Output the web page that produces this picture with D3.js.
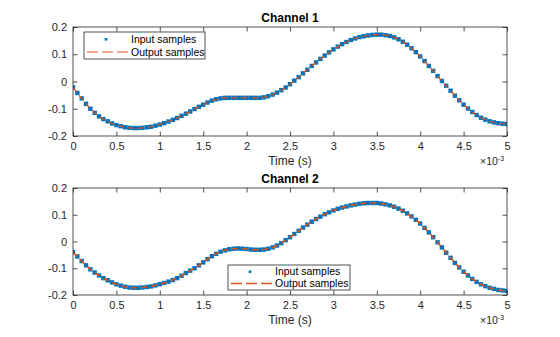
<!DOCTYPE html>
<html><head><meta charset="utf-8">
<script src="https://cdn.jsdelivr.net/npm/d3@7"></script>
<style>body{margin:0;background:#fff}svg{display:block}text{font-family:"Liberation Sans",Arial,sans-serif}</style>
</head><body><svg id="c" width="560" height="337"></svg>
<script>
// time in ms (axis shows ×10^-3 s)
const timeMs = d3.range(0, 101).map(i => +(i * 0.05).toFixed(2));
const channel1 = [-0.022,-0.042,-0.062,-0.082,-0.100,-0.115,-0.128,-0.138,-0.146,-0.154,
 -0.160,-0.164,-0.168,-0.170,-0.171,-0.171,-0.170,-0.168,-0.166,-0.162,
 -0.158,-0.153,-0.147,-0.141,-0.134,-0.126,-0.118,-0.110,-0.101,-0.093,
 -0.085,-0.077,-0.070,-0.065,-0.062,-0.060,-0.060,-0.060,-0.060,-0.060,
 -0.060,-0.060,-0.060,-0.060,-0.058,-0.054,-0.048,-0.041,-0.032,-0.022,
 -0.010,0.003,0.016,0.030,0.043,0.057,0.070,0.083,0.095,0.107,
 0.118,0.128,0.137,0.145,0.152,0.158,0.163,0.166,0.169,0.171,
 0.172,0.172,0.170,0.167,0.162,0.155,0.146,0.135,0.122,0.108,
 0.092,0.075,0.057,0.039,0.020,0.002,-0.016,-0.034,-0.052,-0.069,
 -0.085,-0.099,-0.112,-0.123,-0.133,-0.140,-0.146,-0.150,-0.153,-0.155,-0.156];
const channel2 = [-0.040,-0.056,-0.073,-0.089,-0.104,-0.116,-0.127,-0.137,-0.145,-0.153,
 -0.160,-0.165,-0.169,-0.172,-0.173,-0.173,-0.172,-0.170,-0.168,-0.164,
 -0.160,-0.155,-0.150,-0.144,-0.137,-0.128,-0.118,-0.109,-0.100,-0.089,
 -0.078,-0.066,-0.055,-0.046,-0.038,-0.033,-0.029,-0.027,-0.026,-0.027,
 -0.028,-0.030,-0.031,-0.031,-0.030,-0.027,-0.022,-0.015,-0.006,0.005,
 0.016,0.028,0.040,0.052,0.063,0.074,0.084,0.093,0.102,0.109,
 0.116,0.122,0.127,0.131,0.135,0.138,0.141,0.143,0.144,0.144,
 0.144,0.142,0.139,0.135,0.130,0.123,0.115,0.105,0.094,0.081,
 0.067,0.051,0.034,0.016,-0.003,-0.022,-0.042,-0.061,-0.080,-0.097,
 -0.113,-0.127,-0.140,-0.151,-0.160,-0.167,-0.173,-0.177,-0.181,-0.183,-0.185];
const xTicks = [0,0.5,1,1.5,2,2.5,3,3.5,4,4.5,5];
const yTicks = [-0.2,-0.1,0,0.1,0.2];
const titles = ["Channel 1","Channel 2"];
const legendLabels = ["Input samples","Output samples"];
const xLabel = "Time (s)";

const BLUE = "#0072BD", ORANGE = "#D95319";
const svg = d3.select("#c");
const panels = [
  {data: channel1, top: 27, bottom: 136, legend: {x: 84, y: 32, w: 121, h: 27}, lw: 1.2},
  {data: channel2, top: 188, bottom: 295, legend: {x: 228, y: 265, w: 122, h: 25}, lw: 1.6}
];
const left = 73, right = 507;

panels.forEach((p, pi) => {
  const x = d3.scaleLinear().domain([0, 5]).range([left, right]);
  const y = d3.scaleLinear().domain([-0.2, 0.2]).range([p.bottom, p.top]);
  const g = svg.append("g");
  const cid = "clip" + pi;
  svg.append("clipPath").attr("id", cid).append("rect")
    .attr("x", left).attr("y", p.top).attr("width", right - left).attr("height", p.bottom - p.top);

  const pts = timeMs.map((t, i) => [t, p.data[i]]);
  const plot = g.append("g").attr("clip-path", `url(#${cid})`);
  plot.selectAll("rect.m").data(pts).enter().append("rect")
    .attr("x", d => x(d[0]) - 2.2).attr("y", d => y(d[1]) - 2.2)
    .attr("width", 4.4).attr("height", 4.4).attr("fill", BLUE);
  plot.append("path").datum(pts)
    .attr("d", d3.line().x(d => x(d[0])).y(d => y(d[1])))
    .attr("fill", "none").attr("stroke", ORANGE).attr("stroke-width", p.lw)
    .attr("stroke-dasharray", "6,4");

  const tl = 4.5;
  const fmtX = d => String(d);
  const fmtY = d => (Math.abs(d) < 1e-9 ? "0" : String(d));
  g.append("g").attr("transform", `translate(0,${p.bottom})`)
    .call(d3.axisBottom(x).tickValues(xTicks).tickSizeInner(-tl).tickSizeOuter(0).tickPadding(6).tickFormat(fmtX));
  g.append("g").attr("transform", `translate(0,${p.top})`)
    .call(d3.axisTop(x).tickValues(xTicks).tickSizeInner(-tl).tickSizeOuter(0).tickFormat(""));
  g.append("g").attr("transform", `translate(${left},0)`)
    .call(d3.axisLeft(y).tickValues(yTicks).tickSizeInner(-tl).tickSizeOuter(0).tickPadding(6).tickFormat(fmtY));
  g.append("g").attr("transform", `translate(${right},0)`)
    .call(d3.axisRight(y).tickValues(yTicks).tickSizeInner(-tl).tickSizeOuter(0).tickFormat(""));
  g.selectAll(".domain").remove();
  g.selectAll(".tick line").attr("stroke", "#262626").attr("stroke-width", 0.8);
  g.selectAll(".tick text").attr("fill", "#262626").style("font-size", "11px")
    .style("font-family", "'Liberation Sans',Arial,sans-serif");
  g.append("rect").attr("x", left).attr("y", p.top).attr("width", right - left).attr("height", p.bottom - p.top)
    .attr("fill", "none").attr("stroke", "#262626").attr("stroke-width", 0.8);

  // title, x label, exponent
  g.append("text").attr("x", (left + right) / 2).attr("y", p.top - 5).attr("text-anchor", "middle")
    .style("font-size", "12px").style("font-weight", "bold").attr("fill", "#000").text(titles[pi]);
  g.append("text").attr("x", (left + right) / 2).attr("y", p.bottom + 29).attr("text-anchor", "middle")
    .style("font-size", "12px").attr("fill", "#262626").text(xLabel);
  const ex = g.append("text").attr("x", right - 27).attr("y", p.bottom + 29)
    .style("font-size", "10.5px").attr("fill", "#262626");
  ex.append("tspan").text("×10");
  ex.append("tspan").attr("dy", -4).style("font-size", "7px").text("-3");

  // legend
  const L = p.legend;
  const lg = g.append("g");
  lg.append("rect").attr("x", L.x).attr("y", L.y).attr("width", L.w).attr("height", L.h)
    .attr("fill", "#fff").attr("stroke", "#262626").attr("stroke-width", 0.8);
  const r1 = L.y + L.h * 0.27, r2 = L.y + L.h * 0.74;
  lg.append("rect").attr("x", L.x + 22 - 1.3).attr("y", r1 - 1.3).attr("width", 2.6).attr("height", 2.6).attr("fill", BLUE);
  lg.append("line").attr("x1", L.x + 3).attr("x2", L.x + 44).attr("y1", r2).attr("y2", r2)
    .attr("stroke", ORANGE).attr("stroke-width", p.lw).attr("stroke-dasharray", "11,4");
  lg.append("text").attr("x", L.x + 47).attr("y", r1 + 3.7).style("font-size", "10.5px").attr("fill", "#000").text(legendLabels[0]);
  lg.append("text").attr("x", L.x + 47).attr("y", r2 + 3.7).style("font-size", "10.5px").attr("fill", "#000").text(legendLabels[1]);
});
</script>
</body></html>
